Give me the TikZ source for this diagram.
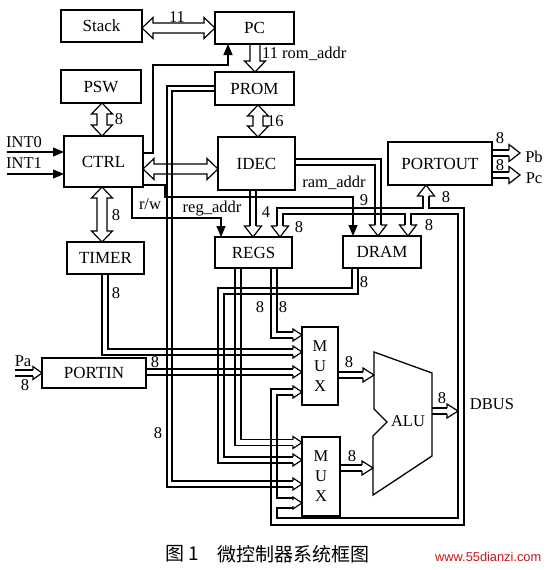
\documentclass[tikz,border=0pt]{standalone}
\usepackage{fontspec}
\setmainfont{Liberation Serif}
\newfontfamily\cjkfont{Noto Sans CJK SC}
\newfontfamily\wmfont{Liberation Sans}
\usetikzlibrary{arrows.meta}
\def\BW{10.5}\def\BH{5}\def\BL{11}
\newcommand\bkDV[3]{\draw[ln] (#1,#2) -- (#1+\BW,#2+\BL) -- (#1+\BH,#2+\BL) -- (#1+\BH,#3-\BL) -- (#1+\BW,#3-\BL) -- (#1,#3) -- (#1-\BW,#3-\BL) -- (#1-\BH,#3-\BL) -- (#1-\BH,#2+\BL) -- (#1-\BW,#2+\BL) -- cycle;}
\newcommand\bkDH[3]{\draw[ln] (#2,#1) -- (#2+\BL,#1-\BW) -- (#2+\BL,#1-\BH) -- (#3-\BL,#1-\BH) -- (#3-\BL,#1-\BW) -- (#3,#1) -- (#3-\BL,#1+\BW) -- (#3-\BL,#1+\BH) -- (#2+\BL,#1+\BH) -- (#2+\BL,#1+\BW) -- cycle;}
\newcommand\bkSV[3]{\draw[ln] (#1-\BH,#2) -- (#1-\BH,#3-\BL) -- (#1-\BW,#3-\BL) -- (#1,#3) -- (#1+\BW,#3-\BL) -- (#1+\BH,#3-\BL) -- (#1+\BH,#2);}
\newcommand\bkAH[6]{\draw[ln, shift={(#1,#2)}, rotate=#3] (-#5,-#6) -- (-#5,-#4) -- (0,0) -- (-#5,#4) -- (-#5,#6);}
\newcommand\bkAS[3]{\bkAH{#1}{#2}{#3}{6}{9}{3}}
\newcommand\bkAM[3]{\bkAH{#1}{#2}{#3}{8.5}{11}{3}}
\begin{document}
\begin{tikzpicture}[x=1pt,y=-1pt,
  ln/.style={line width=1.2pt, line join=miter},
  box/.style={draw, line width=1.3pt, inner sep=0pt, font=\fontsize{17}{17}\selectfont},
  lbl/.style={inner sep=0pt, anchor=base, font=\fontsize{16.5}{16.5}\selectfont},
  farrow/.style={ln, -{Triangle[length=11pt,width=9pt]}}]
\useasboundingbox (0,0) rectangle (549,570);
\fill[white] (0,0) rectangle (549,570);
% boxes
\node[box, minimum width=81pt, minimum height=32pt] (stack) at (101.5,26) {Stack};
\node[box, minimum width=79pt, minimum height=32pt] (pc) at (254.5,28) {PC};
\node[box, minimum width=79pt, minimum height=33pt] (prom) at (254.5,88.5) {PROM};
\node[box, minimum width=80pt, minimum height=33pt] (psw) at (101,86.5) {PSW};
\node[box, minimum width=79pt, minimum height=51pt] (ctrl) at (103.5,161.5) {CTRL};
\node[box, minimum width=77pt, minimum height=53pt] (idec) at (256.5,163.5) {IDEC};
\node[box, minimum width=77pt, minimum height=32pt] (timer) at (105.5,258) {TIMER};
\node[box, minimum width=77pt, minimum height=31pt] (regs) at (253.5,252.5) {REGS};
\node[box, minimum width=78pt, minimum height=32pt] (dram) at (382,252) {DRAM};
\node[box, minimum width=104pt, minimum height=43pt] (portout) at (440,163.5) {PORTOUT};
\node[box, minimum width=104pt, minimum height=30pt] (portin) at (94,373) {PORTIN};
\node[box, minimum width=36pt, minimum height=78pt] (mux1) at (320,366) {};
\node[box, minimum width=38pt, minimum height=79pt] (mux2) at (321,476.5) {};
\foreach \m in {1,2}{
  \node[lbl, anchor=center] (m\m) at ([yshift=20pt]mux\m.center) {M};
  \node[lbl, anchor=center] (u\m) at (mux\m.center) {U};
  \node[lbl, anchor=center] (x\m) at ([yshift=-20pt]mux\m.center) {X};
}
% ALU
\draw[line width=1.3pt] (374,352) -- (432,373) -- (432,456) -- (373,495) -- (373,436) -- (387,422) -- (374,409) -- cycle;
\node[lbl] (alu) at (408,426) {ALU};
% big arrows
\bkDH{28}{142}{215}
\node[lbl] at (177,22) {11};
\bkSV{255}{44}{72}
\node[lbl, anchor=base west] at (262,58) {11 rom\_addr};
\bkDV{258}{105}{137}
\node[lbl, anchor=base west] at (267,126) {16};
\bkDV{102}{103}{136}
\node[lbl] at (119,124) {8};
\bkDV{102}{187}{242}
\node[lbl] at (116,220) {8};
\bkDH{169}{143}{218}
% control lines
\draw[farrow] (143,153) -- (153,153) -- (153,65) -- (228,65) -- (228,44);
\draw[farrow] (7,152) -- (64,152);
\node[lbl, anchor=base west] at (6,147) {INT0};
\draw[farrow] (7,174) -- (64,174);
\node[lbl, anchor=base west] at (6,168) {INT1};
\draw[farrow] (132,187) -- (132,218) -- (221,218) -- (221,237);
\node[lbl] at (150,209) {r/w};
\node[lbl] at (212,212) {reg\_addr};
\draw[farrow] (143,185) -- (165,185) -- (165,197) -- (353,197) -- (353,236);
\node[lbl] at (334,187) {ram\_addr};
\node[lbl] at (364,205) {9};
% IDEC -> REGS
\draw[ln] (250,190) -- (250,226); \draw[ln] (256,190) -- (256,226); \bkAM{253}{237}{-90}
\node[lbl] at (266,217) {4};
% IDEC -> DRAM
\draw[ln] (295,159) -- (381,159) -- (381,225); \draw[ln] (295,165) -- (375,165) -- (375,225); \bkAM{378}{236}{-90}
% DBUS top
\draw[ln] (423,196) -- (423,208) -- (277,208) -- (277,226);
\draw[ln] (405,225) -- (405,214) -- (283,214) -- (283,226);
\bkAM{280}{237}{-90}
\bkAM{408}{236}{-90}
\bkAM{426}{185}{90}
\node[lbl] at (299,232) {8};
\node[lbl] at (429,230) {8};
\node[lbl] at (446,202) {8};
% DBUS loop
\draw[ln] (429,196) -- (429,208) -- (464,208) -- (464,525) -- (271,525) -- (271,389) -- (293,389);
\draw[ln] (411,225) -- (411,214) -- (458,214) -- (458,518) -- (277,518) -- (277,508) -- (293,508);
\draw[ln] (293,498) -- (277,498) -- (277,395) -- (293,395);
\bkAS{302}{392}{0}
\bkAS{302}{503}{0}
% REGS outputs
\draw[ln] (271,268) -- (271,338) -- (293,338); \draw[ln] (277,268) -- (277,332) -- (293,332); \bkAS{302}{335}{0}
\draw[ln] (235,268) -- (235,445.5) -- (293,445.5); \draw[ln] (241,268) -- (241,439.5) -- (293,439.5); \bkAS{302}{442.5}{0}
\node[lbl] at (260,312) {8};
\node[lbl] at (283,312) {8};
% DRAM output
\draw[ln] (352,268) -- (352,288) -- (218,288) -- (218,463) -- (293,463);
\draw[ln] (358,268) -- (358,294) -- (224,294) -- (224,457) -- (293,457);
\bkAS{302}{460}{0}
\node[lbl] at (364,287) {8};
% TIMER
\draw[ln] (102,274) -- (102,355) -- (293,355); \draw[ln] (108,274) -- (108,349) -- (293,349); \bkAS{302}{352}{0}
\node[lbl] at (116,298) {8};
% PORTIN
\draw[ln] (146,369) -- (293,369); \draw[ln] (146,375) -- (293,375); \bkAS{302}{372}{0}
\node[lbl] at (155,367) {8};
\draw[ln] (15,370) -- (33,370); \draw[ln] (15,376) -- (33,376); \bkAH{42}{373}{0}{6.5}{9}{3}
\node[lbl] at (23,366) {Pa};
\node[lbl] at (25,390) {8};
% PROM bus
\draw[ln] (215,86) -- (167,86) -- (167,487) -- (293,487); \draw[ln] (215,91) -- (172,91) -- (172,481) -- (293,481); \bkAS{302}{484}{0}
\node[lbl] at (158,438) {8};
% MUX outputs
\draw[ln] (338,372) -- (363,372); \draw[ln] (338,378) -- (363,378); \bkAH{374}{375}{0}{7}{11}{3}
\node[lbl] at (349,367) {8};
\draw[ln] (340,465) -- (362,465); \draw[ln] (340,471) -- (362,471); \bkAH{373}{468}{0}{7}{11}{3}
\node[lbl] at (352,461) {8};
% ALU out
\draw[ln] (432,408) -- (447,408); \draw[ln] (432,414) -- (447,414); \bkAH{458}{411}{0}{7}{11}{3}
\node[lbl] at (442,403) {8};
\node[lbl] at (492,409) {DBUS};
% PORTOUT outputs
\draw[ln] (492,150) -- (509,150); \draw[ln] (492,156) -- (509,156); \bkAH{520}{153}{0}{8.5}{11}{3}
\draw[ln] (492,172) -- (509,172); \draw[ln] (492,178) -- (509,178); \bkAH{520}{175}{0}{8.5}{11}{3}
\node[lbl] at (500,143) {8};
\node[lbl] at (500,170) {8};
\node[lbl] at (534,162) {Pb};
\node[lbl] at (534,183) {Pc};
% caption
\node[inner sep=0pt, anchor=west, font=\cjkfont\fontsize{19}{19}\selectfont] (cap1) at (165,554) {图\hspace{4pt}1};
\node[inner sep=0pt, anchor=west, font=\cjkfont\fontsize{19}{19}\selectfont] (cap2) at (217,554) {微控制器系统框图};
\node[inner sep=0pt, anchor=west, text={rgb,255:red,200;green,20;blue,20}, font=\wmfont\fontsize{12.8}{12.8}\selectfont] (wm) at (435,557) {www.55dianzi.com};
\end{tikzpicture}
\end{document}
